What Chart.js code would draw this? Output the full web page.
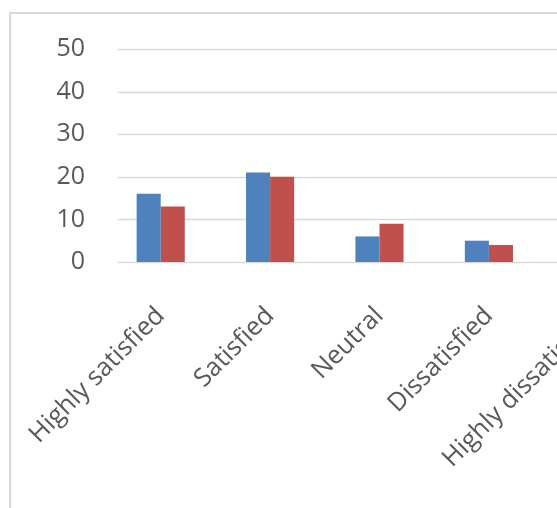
<!DOCTYPE html>
<html>
<head>
<meta charset="utf-8">
<script src="https://cdn.jsdelivr.net/npm/chart.js@4"></script>
<style>
    html, body { margin: 0; padding: 0; overflow: hidden; background: #fff; width: 557px; height: 508px; }
    #frame { position: absolute; left: 9px; top: 12px; width: 800px; height: 700px; border: 2px solid #d9d9d9; box-sizing: border-box; }
    #satisfaction-chart { position: absolute; left: 0; top: 0; }
</style>
</head>
<body>
<div id="frame"></div>
<canvas id="satisfaction-chart" width="700" height="508"></canvas>
<script>
const categories = ['Highly satisfied', 'Satisfied', 'Neutral', 'Dissatisfied', 'Highly dissatisfied'];
const seriesA = [16, 21, 6, 5, 2];
const seriesB = [13, 20, 9, 4, 3];
const yTicks = [0, 10, 20, 30, 40, 50];

// horizontal gridlines start a bit right of the plot edge, like the original
const gridPlugin = {
    id: 'excelGrid',
    beforeDatasetsDraw(chart) {
        const { ctx, chartArea, scales } = chart;
        ctx.save();
        ctx.strokeStyle = '#d9d9d9';
        ctx.lineWidth = 1.5;
        yTicks.forEach(v => {
            const y = Math.round(scales.y.getPixelForValue(v)) + 0.5;
            ctx.beginPath();
            ctx.moveTo(118, y);
            ctx.lineTo(chartArea.right + 40, y);
            ctx.stroke();
        });
        ctx.restore();
    }
};

const ctx = document.getElementById('satisfaction-chart').getContext('2d');
new Chart(ctx, {
    type: 'bar',
    data: {
        labels: categories,
        datasets: [
            { label: 'Series 1', data: seriesA, backgroundColor: '#4F81BD', barPercentage: 1, categoryPercentage: 0.44 },
            { label: 'Series 2', data: seriesB, backgroundColor: '#C0504D', barPercentage: 1, categoryPercentage: 0.44 }
        ]
    },
    options: {
        responsive: false,
        animation: false,
        layout: { padding: { top: 49, right: 47, left: 0, bottom: 0 } },
        plugins: {
            legend: { display: false },
            tooltip: { enabled: false }
        },
        scales: {
            x: {
                grid: { display: false },
                border: { display: false },
                afterFit: (s) => { s.height = 246; s.paddingLeft = 0; s.paddingRight = 0; },
                ticks: {
                    color: '#595959',
                    font: { family: 'Open Sans', size: 25.5 },
                    minRotation: 45,
                    maxRotation: 45,
                    autoSkip: false,
                    padding: 31
                }
            },
            y: {
                min: 0,
                max: 50,
                afterFit: (s) => { s.width = 106; },
                afterBuildTicks: (s) => { s.ticks = yTicks.map(v => ({ value: v })); },
                grid: { display: false, drawTicks: false },
                border: { display: false },
                ticks: {
                    color: '#595959',
                    font: { family: 'Open Sans', size: 25 },
                    padding: 21
                }
            }
        }
    },
    plugins: [gridPlugin]
});
</script>
</body>
</html>
